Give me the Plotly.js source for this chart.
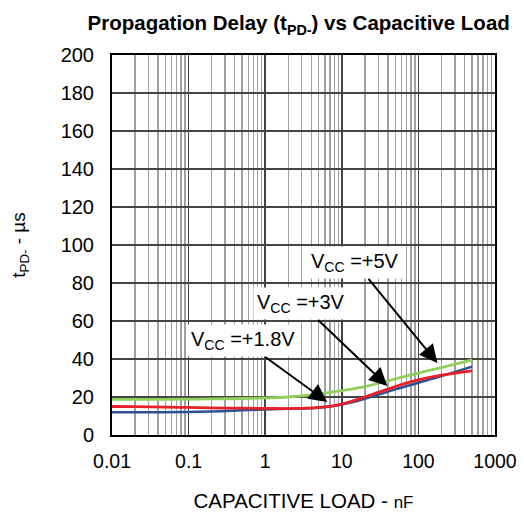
<!DOCTYPE html>
<html>
<head>
<meta charset="utf-8">
<script src="https://cdn.plot.ly/plotly-3.0.1.min.js"></script>
<style>html,body{margin:0;padding:0;background:#fff;}#chart{width:524px;height:515px;}</style>
</head>
<body>
<div id="chart"></div>
<script>
// Capacitive load (nF)
const loadNF = [0.01, 0.02, 0.05, 0.1, 0.2, 0.5, 1, 2, 5, 10, 20, 50, 100, 200, 500];
// Propagation delay tPD- (µs)
const vcc5  = [18.8, 18.8, 18.8, 18.9, 19.0, 19.2, 19.5, 20.0, 21.5, 23.3, 25.5, 29.5, 32.6, 35.5, 39.5];
const vcc3  = [15.0, 14.9, 14.7, 14.5, 14.3, 14.1, 14.0, 13.9, 14.5, 16.3, 20.0, 25.5, 29.0, 31.5, 33.8];
const vcc18 = [12.0, 12.0, 12.0, 12.1, 12.4, 13.0, 13.4, 13.8, 14.3, 16.0, 19.0, 24.0, 27.5, 31.0, 36.0];

const xTicks = [0.01, 0.1, 1, 10, 100, 1000];
const xTickText = ['0.01', '0.1', '1', '10', '100', '1000'];

// Callout labels and arrow tips (data units)
const calloutText = ['V<sub>CC</sub> =+5V', 'V<sub>CC</sub> =+3V', 'V<sub>CC</sub> =+1.8V'];
const calloutTipX = [177, 39.3, 6.46];
const calloutTipY = [37.9, 25.8, 17.4];

const traces = [
  {x: loadNF, y: vcc18, mode: 'lines', line: {color: '#2e4f93', width: 2.5, shape: 'spline'}, name: 'VCC=+1.8V'},
  {x: loadNF, y: vcc5,  mode: 'lines', line: {color: '#92cf5c', width: 2.8, shape: 'spline'}, name: 'VCC=+5V'},
  {x: loadNF, y: vcc3,  mode: 'lines', line: {color: '#e8202a', width: 2.8, shape: 'spline'}, name: 'VCC=+3V'}
];

const offsets = [[-82, -100], [-86, -82], [-84, -61]];
const annotations = calloutText.map((t, i) => ({
  x: Math.log10(calloutTipX[i]), y: calloutTipY[i], xref: 'x', yref: 'y',
  text: t, showarrow: true, ax: offsets[i][0], ay: offsets[i][1],
  arrowhead: 2, arrowsize: 1.8, arrowwidth: 2, arrowcolor: '#000',
  bgcolor: '#fff', borderpad: 3,
  font: {family: 'Liberation Sans, Arial, sans-serif', size: 20, color: '#000'}
}));

const layout = {
  width: 524, height: 515,
  margin: {l: 112, r: 29, t: 55, b: 80},
  paper_bgcolor: '#fff', plot_bgcolor: '#fff',
  showlegend: false,
  font: {family: 'Liberation Sans, Arial, sans-serif', color: '#000', size: 19.5},
  title: {
    text: 'Propagation Delay (t<sub>PD-</sub>) vs Capacitive Load',
    font: {size: 20.5, weight: 'bold', color: '#000'},
    x: 0.57, xanchor: 'center', y: 0.955, yanchor: 'middle'
  },
  xaxis: {
    type: 'log', range: [-2, 3],
    tickvals: xTicks, ticktext: xTickText,
    ticks: '', ticklabelstandoff: 8,
    showgrid: true, gridcolor: '#444', gridwidth: 1.5,
    minor: {showgrid: true, gridcolor: '#a0a0a0', gridwidth: 1.4, dtick: 'D1'},
    showline: true, linecolor: '#000', linewidth: 2, mirror: true,
    zeroline: false,
    title: {text: 'CAPACITIVE LOAD - <span style="font-size:17px">nF</span>', font: {size: 20.5}, standoff: 22}
  },
  yaxis: {
    range: [0, 200], dtick: 20,
    ticks: '', ticklabelstandoff: 12,
    tickfont: {size: 20},
    showgrid: true, gridcolor: '#444', gridwidth: 1.5,
    showline: true, linecolor: '#000', linewidth: 2, mirror: true,
    zeroline: false,
    title: {text: 't<sub>PD-</sub> - µs', font: {size: 19}, standoff: 30}
  },
  annotations: annotations
};

Plotly.newPlot('chart', traces, layout, {displayModeBar: false, staticPlot: true});
</script>
</body>
</html>
